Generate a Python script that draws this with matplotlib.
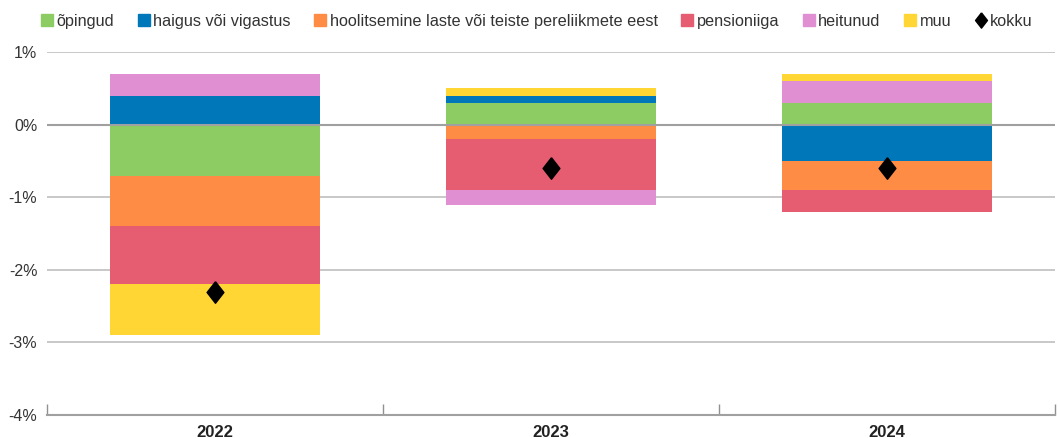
import numpy as np
import matplotlib.pyplot as plt
from matplotlib.lines import Line2D

years = ["2022", "2023", "2024"]

opingud = [-0.7, 0.3, 0.3]
haigus = [0.4, 0.1, -0.5]
hoolitsemine = [-0.7, -0.2, -0.4]
pensioniiga = [-0.8, -0.7, -0.3]
heitunud = [0.3, -0.2, 0.3]
muu = [-0.7, 0.1, 0.1]
kokku = [-2.3, -0.6, -0.6]

series = [
    ("õpingud", opingud, "#8ccc62"),
    ("haigus või vigastus", haigus, "#0077b9"),
    ("hoolitsemine laste või teiste pereliikmete eest", hoolitsemine, "#ff8c44"),
    ("pensioniiga", pensioniiga, "#e65c70"),
    ("heitunud", heitunud, "#e090d2"),
    ("muu", muu, "#ffd633"),
]

plt.rcParams["font.family"] = ["Liberation Sans", "DejaVu Sans"]
plt.rcParams["font.size"] = 11.5

fig = plt.figure(figsize=(10.58, 4.38), dpi=100)
ax = fig.add_axes([0.0444, 0.0525, 0.9528, 0.8285])

x = np.arange(len(years))
width = 0.625
pos_base = np.zeros(len(years))
neg_base = np.zeros(len(years))
handles = []
for name, vals, col in series:
    vals = np.array(vals)
    bottoms = np.where(vals >= 0, pos_base, neg_base)
    ax.bar(x, vals, width, bottom=bottoms, color=col, zorder=2, linewidth=0)
    pos_base = pos_base + np.where(vals >= 0, vals, 0)
    neg_base = neg_base + np.where(vals < 0, vals, 0)
    handles.append(Line2D([], [], marker="s", linestyle="", color=col,
                          markersize=8.5, label=name))

diamond = [(0, 1), (0.78, 0), (0, -1), (-0.78, 0), (0, 1)]
ax.plot(x, kokku, linestyle="", marker=diamond, color="black",
        markersize=15.5, zorder=4)
handles.append(Line2D([], [], marker=diamond, linestyle="", color="black",
                      markersize=11, label="kokku"))

ax.set_xlim(-0.5, 2.5)
ax.set_ylim(-4, 1)
ax.set_yticks([1, 0, -1, -2, -3, -4])
ax.set_yticklabels(["1%", "0%", "-1%", "-2%", "-3%", "-4%"], color="#333333",
                   fontsize=11.5)
for v in [1, -1, -2, -3]:
    ax.axhline(v, color="#c4c4c4", linewidth=1.3, zorder=1)
ax.axhline(0, color="#a0a0a0", linewidth=1.5, zorder=3)

ax.set_xticks(x)
ax.set_xticklabels(years, fontweight="bold", fontsize=12, color="#222222")
ax.set_xticks([-0.5, 0.5, 1.5, 2.5], minor=True)
ax.tick_params(axis="x", which="major", length=0, pad=7)
ax.tick_params(axis="x", which="minor", direction="in", length=8,
               color="#909090", width=1)
ax.tick_params(axis="y", length=0, pad=7)

for s in ["top", "left", "right"]:
    ax.spines[s].set_visible(False)
ax.spines["bottom"].set_color("#a0a0a0")
ax.spines["bottom"].set_linewidth(1.5)
ax.spines["bottom"].set_zorder(3)

fig.legend(handles=handles, loc="upper center", bbox_to_anchor=(0.508, 1.0),
           ncol=7, frameon=False, handlelength=0.6, handletextpad=0.3,
           columnspacing=1.5, borderaxespad=0.45, fontsize=11.7,
           labelcolor="#333333")

fig.savefig("out.png", dpi=100)
